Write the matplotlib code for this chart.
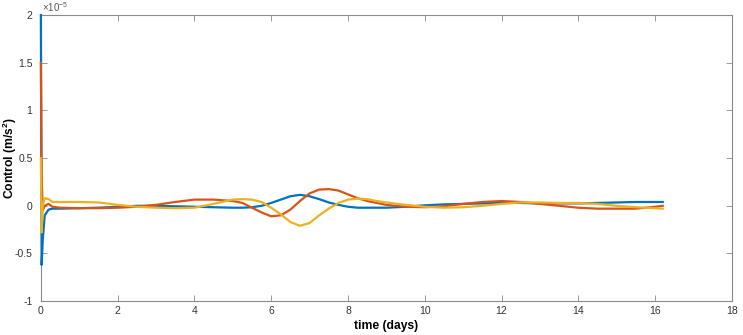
import matplotlib
matplotlib.use("Agg")
import matplotlib.pyplot as plt
from matplotlib.ticker import FuncFormatter
import numpy as np

# time (days)
t = [0, 0.02, 0.05, 0.1, 0.2, 0.3, 0.5,
     1, 1.5, 2, 2.5, 3, 3.5, 4, 4.5, 5,
     5.25, 5.5, 5.75, 6, 6.25, 6.5, 6.75, 7, 7.25, 7.5, 7.75, 8, 8.25, 8.5, 8.75, 9,
     9.5, 10, 10.5, 11, 11.5, 12, 12.5, 13, 13.5, 14, 14.5, 15, 15.5, 16, 16.2]

# control components (x 1e-5 m/s^2)
u1 = [2.0, -0.62, -0.35, -0.1, -0.04, -0.03, -0.03,
      -0.025, -0.02, -0.01, 0.0, 0.0, -0.005, -0.01, -0.015, -0.02,
      -0.02, -0.015, 0.0, 0.03, 0.065, 0.1, 0.115, 0.1, 0.07, 0.035, 0.01, -0.01, -0.02, -0.02, -0.02, -0.02,
      -0.01, 0.005, 0.015, 0.02, 0.025, 0.03, 0.03, 0.025, 0.025, 0.025, 0.03, 0.035, 0.04, 0.04, 0.04]
u2 = [1.5, 0.3, -0.05, 0.0, 0.02, -0.01, -0.02,
      -0.025, -0.025, -0.02, -0.01, 0.01, 0.04, 0.065, 0.065, 0.05,
      0.03, -0.02, -0.07, -0.11, -0.1, -0.04, 0.05, 0.13, 0.17, 0.175, 0.16, 0.12, 0.08, 0.05, 0.03, 0.01,
      -0.01, -0.015, -0.005, 0.02, 0.04, 0.05, 0.04, 0.02, 0.0, -0.02, -0.03, -0.03, -0.03, -0.01, 0.0]
u3 = [0.5, -0.28, 0.0, 0.08, 0.07, 0.04, 0.04,
      0.04, 0.035, 0.01, -0.01, -0.02, -0.025, -0.02, 0.02, 0.065,
      0.07, 0.065, 0.04, -0.02, -0.09, -0.17, -0.21, -0.18, -0.1, -0.03, 0.03, 0.065, 0.075, 0.07, 0.05, 0.035,
      0.01, -0.01, -0.02, -0.015, 0.0, 0.02, 0.035, 0.035, 0.03, 0.03, 0.02, 0.0, -0.015, -0.025, -0.03]

yticks = [-1, -0.5, 0, 0.5, 1, 1.5, 2]
xticks = [0, 2, 4, 6, 8, 10, 12, 14, 16, 18]

plt.rcParams['font.family'] = ['Liberation Sans', 'DejaVu Sans']
plt.rcParams['mathtext.fontset'] = 'custom'
plt.rcParams['mathtext.rm'] = 'Liberation Sans'
plt.rcParams['mathtext.bf'] = 'Liberation Sans:bold'

fig = plt.figure(figsize=(7.43, 3.35), dpi=100)
ax = fig.add_axes([0.055, 0.101, 0.93, 0.854])

scale = 1e-5
for u, c in [(u1, '#0072BD'), (u2, '#D95319'), (u3, '#EDB120')]:
    ax.plot(t, np.array(u) * scale, color=c, lw=1.6, clip_on=False, zorder=3)

ax.set_xlim(0, 18)
ax.set_ylim(-1e-5, 2e-5)
ax.set_xticks(xticks)
ax.set_yticks(np.array(yticks) * scale)
ax.yaxis.set_major_formatter(FuncFormatter(lambda v, p: '%g' % round(v / scale, 3)))

ax.text(0.002, 1.005, '$\\times$10$^{-5}$', transform=ax.transAxes,
        fontsize=7, color='#555555', va='bottom', ha='left')

for s in ax.spines.values():
    s.set_color('#8a8a8a')
    s.set_linewidth(0.8)
ax.tick_params(direction='in', top=True, right=True, length=4, width=0.6,
               color='#8a8a8a', labelcolor='#333333', labelsize=7.5)
ax.tick_params(axis='y', pad=6)

ax.set_xlabel('time (days)', fontweight='bold', fontsize=8.7, labelpad=3)
ax.set_ylabel('Control (m/s$^\\mathbf{2}$)', fontweight='bold', fontsize=8.7)
ax.yaxis.set_label_coords(-0.032, 0.5)

plt.savefig('out.png', dpi=100)
